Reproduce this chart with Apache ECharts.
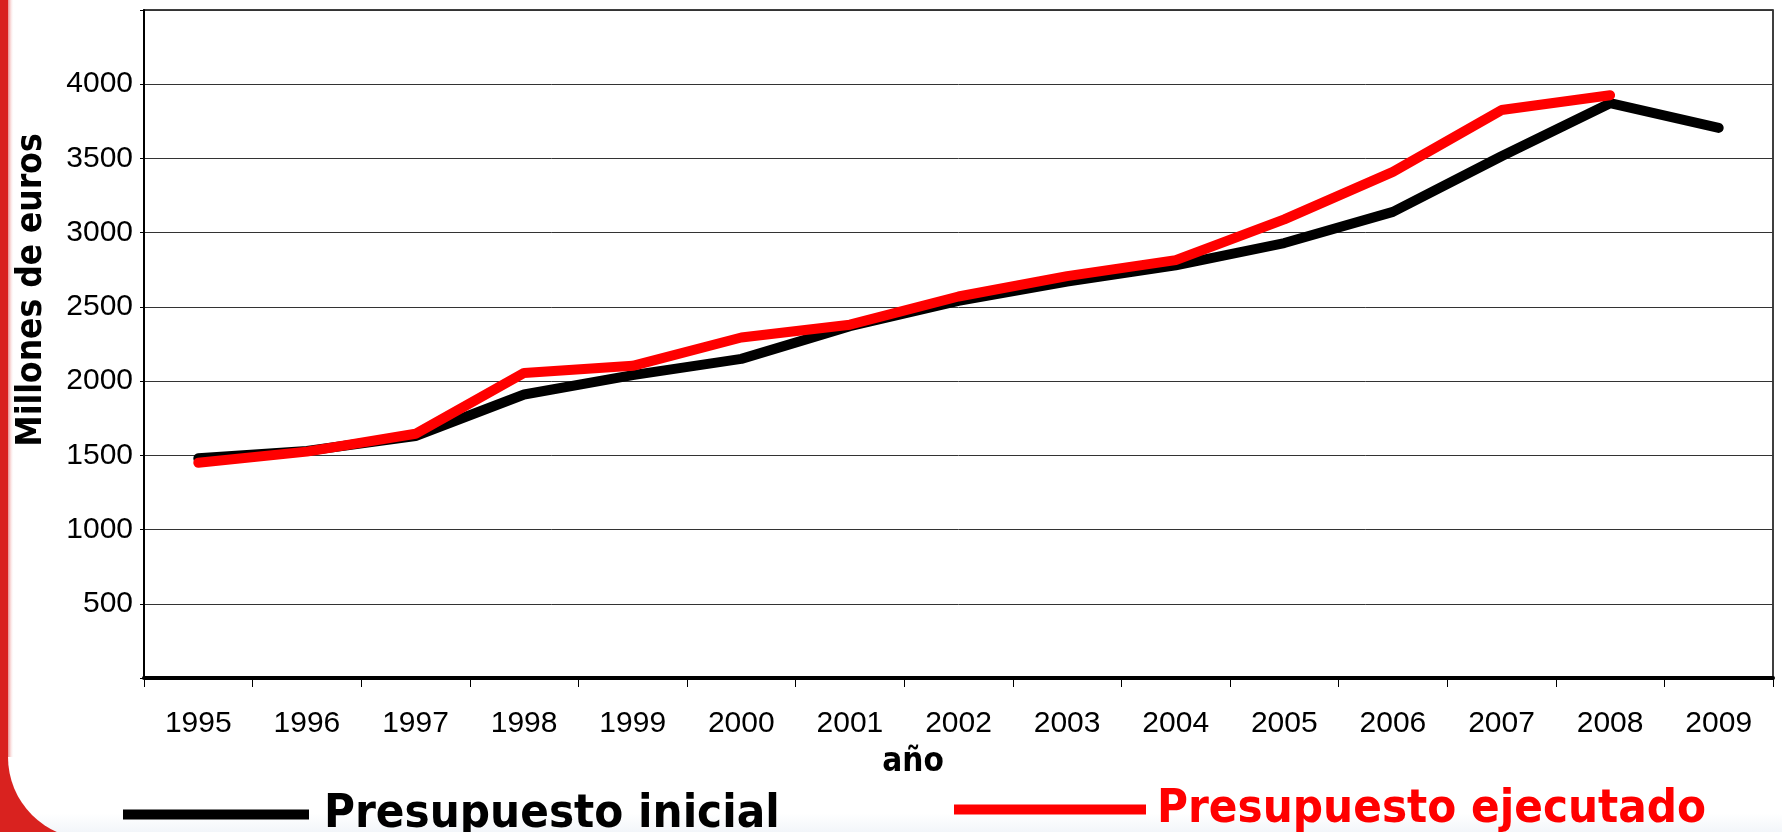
<!DOCTYPE html>
<html>
<head>
<meta charset="utf-8">
<script src="https://cdn.jsdelivr.net/npm/echarts@6/dist/echarts.min.js"></script>
<style>
html,body{margin:0;padding:0;background:#fff;}
#chart{width:1782px;height:832px;}
</style>
</head>
<body>
<div id="chart"></div>
<script>
var years = ['1995','1996','1997','1998','1999','2000','2001','2002','2003','2004','2005','2006','2007','2008','2009'];
var presupuestoInicial = [1480, 1530, 1630, 1910, 2040, 2150, 2370, 2540, 2670, 2780, 2930, 3140, 3515, 3872, 3706];
var presupuestoEjecutado = [1450, 1525, 1645, 2055, 2103, 2294, 2380, 2570, 2707, 2815, 3090, 3410, 3826, 3926, null];
var yTicks = [500, 1000, 1500, 2000, 2500, 3000, 3500, 4000];
var seriesNames = ['Presupuesto inicial', 'Presupuesto ejecutado'];

var chart = echarts.init(document.getElementById('chart'), null, {renderer: 'canvas'});
var condBold = "'DejaVu Sans Condensed', 'DejaVu Sans', sans-serif";

var option = {
  backgroundColor: '#d9221f',
  animation: false,
  graphic: [
    {type: 'rect', z: -10, silent: true,
     shape: {x: 8, y: -20, width: 1800, height: 859, r: [0, 0, 0, 82]},
     style: {fill: new echarts.graphic.LinearGradient(0, 0, 0, 1, [
       {offset: 0, color: '#ffffff'}, {offset: 0.97, color: '#ffffff'}, {offset: 1, color: '#eef2f8'}])}},
    {type: 'rect', z: -9, silent: true,
     shape: {x: 8, y: 0, width: 6, height: 757},
     style: {fill: new echarts.graphic.LinearGradient(0, 0, 1, 0, [
       {offset: 0, color: 'rgba(217,34,31,0.5)'}, {offset: 1, color: 'rgba(255,255,255,0)'}])}}
  ],
  grid: {
    left: 144, right: 9, top: 10, bottom: 154,
    containLabel: false,
    outerBoundsMode: 'none',
    show: true, borderColor: '#000', borderWidth: 1.5, backgroundColor: 'transparent'
  },
  legend: [
    {
      data: [{name: seriesNames[0], textStyle: {color: '#000'}}],
      left: 118, top: 786,
      icon: 'rect', itemWidth: 186, itemHeight: 10,
      textStyle: {fontFamily: condBold, fontWeight: 'bold', fontSize: 47, padding: [0, 0, 0, 10]},
      selectedMode: false
    },
    {
      data: [{name: seriesNames[1], textStyle: {color: '#ff0000'}}],
      left: 949, top: 781,
      icon: 'rect', itemWidth: 192, itemHeight: 10,
      textStyle: {fontFamily: condBold, fontWeight: 'bold', fontSize: 47, padding: [0, 0, 0, 6]},
      selectedMode: false
    }
  ],
  xAxis: {
    type: 'category',
    data: years,
    boundaryGap: true,
    name: 'año',
    nameLocation: 'middle',
    nameGap: 68,
    nameTextStyle: {fontFamily: condBold, fontWeight: 'bold', fontSize: 33, color: '#000', padding: [0, 91, 0, 0]},
    axisLine: {show: true, lineStyle: {color: '#000', width: 4}},
    axisTick: {show: true, length: 9, lineStyle: {color: '#000', width: 1}},
    axisLabel: {interval: 0, fontFamily: 'Liberation Sans', fontSize: 30, color: '#000', margin: 31},
    splitLine: {show: false}
  },
  yAxis: {
    type: 'value',
    min: 0, max: 4500, interval: 500,
    name: 'Millones de euros',
    nameLocation: 'middle',
    nameRotate: 90,
    nameGap: 95,
    nameTextStyle: {fontFamily: condBold, fontWeight: 'bold', fontSize: 35, color: '#000', padding: [0, 0, 0, 108]},
    axisLine: {show: true, lineStyle: {color: '#000', width: 2}},
    axisTick: {show: true, length: 4, lineStyle: {color: '#000', width: 1}},
    axisLabel: {
      fontFamily: 'Liberation Sans', fontSize: 30, color: '#000', margin: 11,
      formatter: function (v) { return yTicks.indexOf(v) >= 0 ? String(v) : ''; }
    },
    splitLine: {show: true, lineStyle: {color: '#333', width: 1}}
  },
  series: [
    {
      name: seriesNames[0], type: 'line', data: presupuestoInicial,
      color: '#000', symbol: 'none', showSymbol: false,
      lineStyle: {color: '#000', width: 10, cap: 'round'},
      z: 3
    },
    {
      name: seriesNames[1], type: 'line', data: presupuestoEjecutado,
      color: '#ff0000', symbol: 'none', showSymbol: false,
      lineStyle: {color: '#ff0000', width: 10, cap: 'round'},
      z: 4
    }
  ]
};
chart.setOption(option);
</script>
</body>
</html>
